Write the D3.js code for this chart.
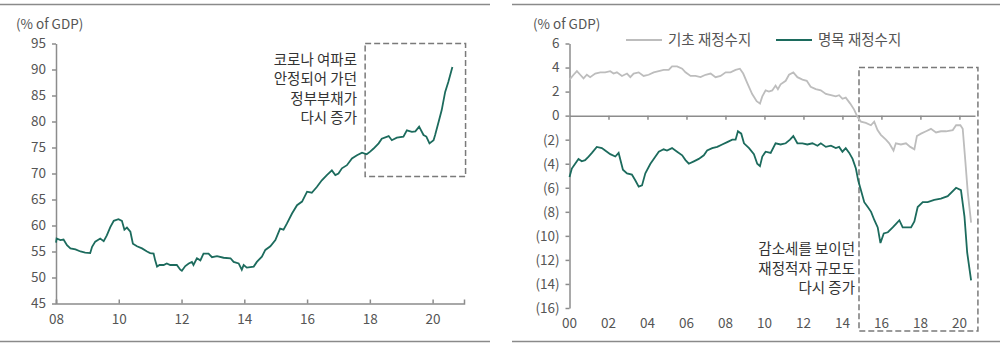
<!DOCTYPE html>
<html>
<head>
<meta charset="utf-8">
<script src="https://cdn.jsdelivr.net/npm/d3@7"></script>
<style>
  body { margin: 0; background: #fff; }
  text { font-family: "Noto Sans CJK KR", "Noto Sans", sans-serif; }
</style>
</head>
<body>
<svg width="1000" height="346"></svg>
<script>
const svg = d3.select("svg");

const green = "#1c6b5d";
const grey = "#bdbdbd";
const axisColor = "#8c8c8c";
const labelColor = "#555";

// ---- left panel: government debt (% of GDP)
const debtYears = [2008.0, 2008.02, 2008.14, 2008.24, 2008.35, 2008.46, 2008.62, 2008.78, 2008.93, 2009.09,
  2009.15, 2009.25, 2009.41, 2009.52, 2009.62, 2009.73, 2009.84, 2009.99, 2010.1, 2010.18,
  2010.26, 2010.37, 2010.45, 2010.58, 2010.74, 2010.9, 2011.0, 2011.11, 2011.16, 2011.22,
  2011.3, 2011.43, 2011.53, 2011.64, 2011.85, 2011.96, 2012.01, 2012.12, 2012.23, 2012.33,
  2012.38, 2012.49, 2012.6, 2012.7, 2012.86, 2012.97, 2013.13, 2013.34, 2013.56, 2013.66,
  2013.82, 2013.92, 2013.98, 2014.08, 2014.3, 2014.4, 2014.56, 2014.67, 2014.83, 2014.99,
  2015.14, 2015.25, 2015.36, 2015.52, 2015.68, 2015.84, 2016.0, 2016.15, 2016.31, 2016.47,
  2016.63, 2016.79, 2016.9, 2017.0, 2017.11, 2017.27, 2017.43, 2017.59, 2017.75, 2017.9,
  2018.01, 2018.12, 2018.28, 2018.38, 2018.6, 2018.7, 2018.86, 2019.07, 2019.18, 2019.34,
  2019.45, 2019.57, 2019.71, 2019.8, 2019.9, 2020.03, 2020.08, 2020.19, 2020.29, 2020.4,
  2020.5, 2020.63];
const debtValues = [56.7, 57.5, 57.2, 57.3, 56.2, 55.6, 55.4, 55.0, 54.8, 54.7,
  55.9, 56.9, 57.5, 57.0, 58.1, 59.7, 60.9, 61.2, 60.9, 59.2,
  59.6, 58.8, 56.5, 56.0, 55.6, 55.0, 54.7, 54.6, 53.3, 52.1,
  52.4, 52.4, 52.7, 52.4, 52.4, 51.5, 51.3, 52.2, 52.7, 53.0,
  52.4, 53.7, 53.3, 54.6, 54.6, 53.9, 54.1, 53.8, 53.7, 53.0,
  52.7, 51.5, 52.4, 51.9, 52.1, 53.0, 54.0, 55.3, 56.0, 57.2,
  59.4, 59.2, 60.4, 62.3, 63.9, 64.6, 66.5, 66.3, 67.4, 68.7,
  69.7, 70.6, 69.7, 70.0, 71.0, 71.6, 72.9, 73.5, 74.0, 73.7,
  74.2, 74.8, 75.8, 76.7, 77.2, 76.4, 76.9, 77.1, 78.3, 78.0,
  78.1, 79.0, 77.4, 77.1, 75.8, 76.4, 77.4, 79.9, 82.2, 85.7,
  87.6, 90.5];
const debtTicksY = [45, 50, 55, 60, 65, 70, 75, 80, 85, 90, 95];
const debtTicksX = [2008, 2010, 2012, 2014, 2016, 2018, 2020];
const debtNote = ["코로나 여파로", "안정되어 가던", "정부부채가", "다시 증가"];

// ---- right panel: fiscal balance (% of GDP)
const primaryYears = [2000.0, 2000.21, 2000.38, 2000.55, 2000.72, 2000.89, 2001.06, 2001.32, 2001.58, 2001.83,
  2002.09, 2002.26, 2002.43, 2002.69, 2002.95, 2003.12, 2003.29, 2003.55, 2003.8, 2004.06,
  2004.32, 2004.58, 2004.83, 2005.09, 2005.26, 2005.52, 2005.78, 2005.95, 2006.21, 2006.46,
  2006.72, 2006.98, 2007.24, 2007.49, 2007.75, 2008.01, 2008.26, 2008.52, 2008.74, 2008.91,
  2009.12, 2009.37, 2009.6, 2009.77, 2009.89, 2010.06, 2010.23, 2010.4, 2010.57, 2010.69,
  2010.83, 2011.09, 2011.26, 2011.48, 2011.69, 2011.95, 2012.17, 2012.37, 2012.63, 2012.89,
  2013.15, 2013.41, 2013.66, 2013.83, 2014.0, 2014.17, 2014.4, 2014.6, 2014.77, 2014.95,
  2015.2, 2015.46, 2015.63, 2015.8, 2015.97, 2016.23, 2016.4, 2016.62, 2016.74, 2017.0,
  2017.26, 2017.48, 2017.69, 2017.82, 2018.03, 2018.29, 2018.54, 2018.8, 2019.05, 2019.31,
  2019.66, 2019.83, 2020.05, 2020.17, 2020.3, 2020.43, 2020.6];
const primaryValues = [3.0, 3.4, 3.7, 3.4, 3.1, 3.4, 3.2, 3.5, 3.6, 3.6,
  3.7, 3.5, 3.6, 3.3, 3.5, 3.2, 3.5, 3.6, 3.3, 3.4,
  3.6, 3.7, 3.8, 3.8, 4.1, 4.1, 3.9, 3.6, 3.3, 3.3,
  3.2, 3.4, 3.5, 3.2, 3.3, 3.6, 3.6, 3.8, 3.9, 3.5,
  2.7, 1.8, 1.2, 1.0, 1.6, 2.1, 2.0, 2.1, 2.5, 2.2,
  2.6, 2.9, 3.4, 3.6, 3.2, 3.0, 2.9, 2.4, 2.2, 2.1,
  1.8, 1.7, 1.6, 1.7, 1.4, 1.5, 1.0, 0.5, -0.1, -0.5,
  -0.6, -0.8, -0.5, -1.2, -1.6, -2.0, -2.3, -2.9, -2.3, -2.4,
  -2.3, -2.6, -2.8, -1.7, -1.5, -1.3, -1.1, -1.4, -1.3, -1.3,
  -1.2, -0.8, -0.8, -1.1, -3.7, -6.4, -8.9];
const nominalYears = [2000.0, 2000.12, 2000.29, 2000.46, 2000.63, 2000.8, 2000.98, 2001.15, 2001.4, 2001.66,
  2001.83, 2002.09, 2002.35, 2002.52, 2002.74, 2002.95, 2003.2, 2003.38, 2003.55, 2003.72,
  2003.89, 2004.15, 2004.32, 2004.58, 2004.83, 2005.0, 2005.26, 2005.52, 2005.78, 2005.95,
  2006.12, 2006.38, 2006.63, 2006.89, 2007.06, 2007.32, 2007.58, 2007.83, 2008.09, 2008.35,
  2008.52, 2008.64, 2008.81, 2008.95, 2009.21, 2009.46, 2009.63, 2009.77, 2009.89, 2010.06,
  2010.32, 2010.57, 2010.83, 2011.09, 2011.31, 2011.48, 2011.69, 2011.95, 2012.2, 2012.46,
  2012.72, 2012.89, 2013.15, 2013.41, 2013.66, 2013.83, 2014.0, 2014.17, 2014.35, 2014.52,
  2014.69, 2014.81, 2014.95, 2015.12, 2015.3, 2015.47, 2015.64, 2015.81, 2015.95, 2016.12,
  2016.33, 2016.58, 2016.75, 2016.92, 2017.09, 2017.26, 2017.52, 2017.69, 2017.86, 2018.12,
  2018.37, 2018.71, 2019.05, 2019.4, 2019.83, 2020.08, 2020.26, 2020.4, 2020.6];
const nominalValues = [-5.1, -4.4, -4.0, -3.6, -3.8, -3.7, -3.4, -3.1, -2.6, -2.7,
  -2.9, -3.2, -3.4, -3.1, -4.5, -4.8, -4.9, -5.4, -5.9, -5.8,
  -4.8, -4.0, -3.6, -3.0, -2.8, -2.9, -2.7, -3.0, -3.3, -3.7,
  -4.0, -3.8, -3.6, -3.3, -2.9, -2.7, -2.6, -2.4, -2.2, -2.0,
  -2.0, -1.3, -1.5, -2.3, -2.7, -3.2, -4.0, -4.2, -3.4, -3.0,
  -3.1, -2.3, -2.4, -2.3, -2.0, -1.7, -2.3, -2.3, -2.4, -2.3,
  -2.5, -2.3, -2.6, -2.5, -2.7, -2.6, -3.0, -2.7, -3.1, -3.6,
  -4.4, -5.4, -6.2, -7.2, -7.6, -8.0, -8.7, -9.3, -10.6, -9.8,
  -9.7, -9.3, -9.0, -8.7, -9.3, -9.3, -9.3, -8.8, -7.6, -7.2,
  -7.2, -7.0, -6.9, -6.7, -6.0, -6.2, -8.4, -11.4, -13.7];
const balanceTicksY = [-16, -14, -12, -10, -8, -6, -4, -2, 0, 2, 4, 6];
const balanceTicksX = [2000, 2002, 2004, 2006, 2008, 2010, 2012, 2014, 2016, 2018, 2020];
const seriesNames = ["기초 재정수지", "명목 재정수지"];
const balanceNote = ["감소세를 보이던", "재정적자 규모도", "다시 증가"];

const yearLabel = d => String(d % 100).padStart(2, "0");
const negLabel = d => d < 0 ? `(${-d})` : String(d);

// frame rules top / bottom
[[0, 490], [512, 1000]].forEach(([a, b]) => {
  [4.5, 341.5].forEach(y => {
    svg.append("line").attr("x1", a).attr("x2", b).attr("y1", y).attr("y2", y)
      .attr("stroke", "#8a8a8a").attr("stroke-width", 1.5);
  });
});

function styleAxis(g) {
  g.select(".domain").attr("stroke", axisColor).attr("stroke-width", 1.5);
  g.selectAll(".tick line").attr("stroke", axisColor).attr("stroke-width", 1.5);
  g.selectAll(".tick text").attr("fill", labelColor).attr("font-size", "13.5px")
    .attr("font-family", "'Noto Sans CJK KR', sans-serif");
}

// ================= left chart
const xL = d3.scaleLinear().domain([2008, 2021]).range([56, 464]);
const yL = d3.scaleLinear().domain([45, 95]).range([303.5, 43.5]);

svg.append("text").attr("x", 16).attr("y", 29).attr("font-size", "13.5px").attr("fill", labelColor)
  .text("(% of GDP)");

svg.append("g").attr("transform", `translate(${xL.range()[0]},0)`)
  .call(d3.axisLeft(yL).tickValues(debtTicksY).tickSize(4).tickSizeOuter(0).tickPadding(6))
  .call(styleAxis);

const gxL = svg.append("g").attr("transform", `translate(0,${yL(45)})`)
  .call(d3.axisBottom(xL).tickValues(debtTicksX).tickFormat(yearLabel).tickSizeOuter(0).tickSize(-4).tickPadding(8))
  .call(styleAxis);
gxL.selectAll(".tick text").attr("dy", "0.9em");

svg.append("rect")
  .attr("x", xL(2017.85)).attr("y", yL(95))
  .attr("width", xL(2021.05) - xL(2017.85)).attr("height", yL(69.4) - yL(95))
  .attr("fill", "none").attr("stroke", "#7a7a7a").attr("stroke-width", 1.5)
  .attr("stroke-dasharray", "6,3");

const noteL = svg.append("text").attr("text-anchor", "end").attr("font-size", "14.5px").attr("fill", "#333");
debtNote.forEach((t, i) => {
  noteL.append("tspan").attr("x", 357).attr("y", 65 + i * 19.3).text(t);
});

const debtData = debtYears.map((y, i) => ({ x: y, v: debtValues[i] }));
svg.append("path").datum(debtData)
  .attr("fill", "none").attr("stroke", green).attr("stroke-width", 1.8)
  .attr("d", d3.line().x(d => xL(d.x)).y(d => yL(d.v)));

// ================= right chart
const xR = d3.scaleLinear().domain([2000, 2020.8]).range([569.5, 975]);
const yR = d3.scaleLinear().domain([-16, 6]).range([308, 43.5]);

svg.append("text").attr("x", 533).attr("y", 29).attr("font-size", "13.5px").attr("fill", labelColor)
  .text("(% of GDP)");

svg.append("g").attr("transform", `translate(${xR.range()[0]},0)`)
  .call(d3.axisLeft(yR).tickValues(balanceTicksY).tickFormat(negLabel).tickSize(4).tickSizeOuter(0).tickPadding(6))
  .call(styleAxis);

// axis line at zero with ticks pointing down
svg.append("g").attr("transform", `translate(0,${yR(0)})`)
  .call(d3.axisBottom(xR).tickValues(balanceTicksX.slice(1)).tickFormat("").tickSize(4).tickSizeOuter(0))
  .call(styleAxis);

// year labels at the bottom
svg.append("g").selectAll("text").data(balanceTicksX).join("text")
  .attr("x", d => xR(d)).attr("y", 328)
  .attr("text-anchor", "middle").attr("font-size", "13.5px").attr("fill", labelColor)
  .text(yearLabel);

svg.append("rect")
  .attr("x", xR(2014.85)).attr("y", yR(4))
  .attr("width", xR(2020.95) - xR(2014.85)).attr("height", 331 - yR(4))
  .attr("fill", "none").attr("stroke", "#7a7a7a").attr("stroke-width", 1.5)
  .attr("stroke-dasharray", "6,3");

const noteR = svg.append("text").attr("text-anchor", "end").attr("font-size", "14.5px").attr("fill", "#333");
balanceNote.forEach((t, i) => {
  noteR.append("tspan").attr("x", 855).attr("y", 254 + i * 19.5).text(t);
});

const lineR = d3.line().x(d => xR(d.x)).y(d => yR(d.v));
svg.append("path").datum(primaryYears.map((y, i) => ({ x: y, v: primaryValues[i] })))
  .attr("fill", "none").attr("stroke", grey).attr("stroke-width", 1.8).attr("d", lineR);
svg.append("path").datum(nominalYears.map((y, i) => ({ x: y, v: nominalValues[i] })))
  .attr("fill", "none").attr("stroke", green).attr("stroke-width", 1.8).attr("d", lineR);

// legend
const legend = svg.append("g");
[[626, grey], [776, green]].forEach(([lx, c], i) => {
  legend.append("line").attr("x1", lx).attr("x2", lx + 36).attr("y1", 40).attr("y2", 40)
    .attr("stroke", c).attr("stroke-width", 2);
  legend.append("text").attr("x", lx + 42).attr("y", 45).attr("font-size", "14.5px")
    .attr("fill", labelColor).text(seriesNames[i]);
});
</script>
</body>
</html>
